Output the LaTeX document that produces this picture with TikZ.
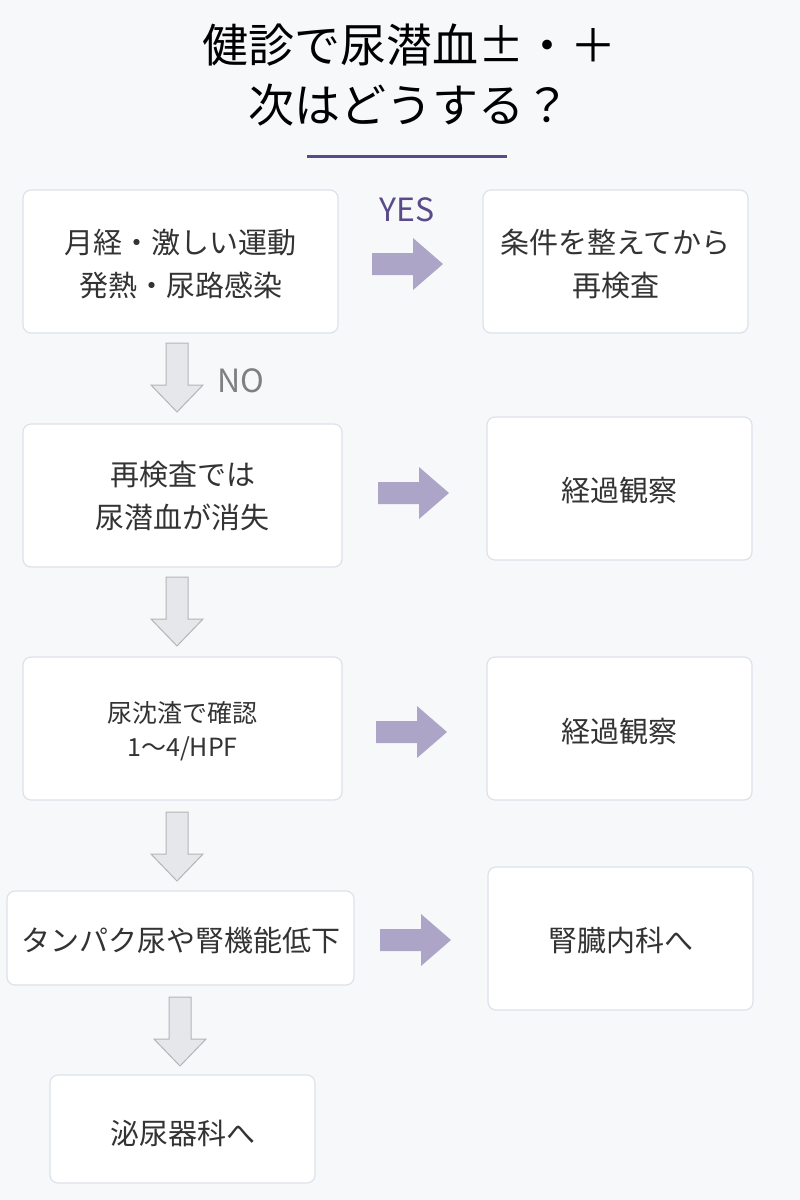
\documentclass[tikz,border=0pt]{standalone}
\usepackage{fontspec}
\setmainfont{Noto Sans CJK JP}
\definecolor{bg}{HTML}{F7F8FA}
\definecolor{bd}{HTML}{DDE2EA}
\definecolor{pur}{HTML}{5B4A8A}
\definecolor{lpur}{HTML}{ADA5C8}
\definecolor{gfill}{HTML}{E6E7EA}
\definecolor{gline}{HTML}{B5B5B5}
\definecolor{txt}{HTML}{333333}
\begin{document}
\begin{tikzpicture}[x=1pt,y=-1pt,
 box/.style={draw=bd,line width=1.2pt,fill=white,rounded corners=8pt},
 t/.style={text=txt,font=\fontsize{29}{43}\selectfont,align=center},
 ra/.style={fill=lpur,draw=none},
 da/.style={fill=gfill,draw=gline,line width=1pt,line join=miter}]
\fill[bg] (0,0) rectangle (800,1200);
\useasboundingbox (0,0) rectangle (800,1200);
\node[t,font=\fontsize{46}{60}\selectfont,text=black] (title) at (409,75) {健診で尿潜血±・＋\\次はどうする？};
\draw[pur,line width=3pt] (307,156) coordinate (u1) -- (507,156) coordinate (u2);
\draw[box] (23,190) rectangle (338,333); \node[t] (b1) at (180.5,264) {月経・激しい運動\\発熱・尿路感染};
\draw[box] (483,190) rectangle (748,333); \node[t] (b2) at (615.5,264) {条件を整えてから\\再検査};
\draw[box] (23,424) rectangle (342,567); \node[t] (b3) at (182.5,496) {再検査では\\尿潜血が消失};
\draw[box] (487,417) rectangle (752,560); \node[t] (b4) at (619.5,491) {経過観察};
\draw[box] (23,657) rectangle (342,800); \node[t,font=\fontsize{25}{34}\selectfont] (b5) at (182.5,731) {尿沈渣で確認\\1〜4/HPF};
\draw[box] (487,657) rectangle (752,800); \node[t] (b6) at (619.5,731) {経過観察};
\draw[box] (7,891) rectangle (354,985); \node[t] (b7) at (180.5,940) {タンパク尿や腎機能低下};
\draw[box] (488,867) rectangle (753,1010); \node[t] (b8) at (620.5,940) {腎臓内科へ};
\draw[box] (50,1075) rectangle (315,1183); \node[t] (b9) at (182.5,1133) {泌尿器科へ};
\foreach \n/\x/\y in {r1/372/264,r2/378/493,r3/376/732,r4/380/940}{
  \coordinate (\n) at (\x,\y);
  \fill[ra] (\n) ++(0,-11) -- ++(41,0) -- ++(0,-15) -- ++(30,26) -- ++(-30,26) -- ++(0,-15) -- ++(-41,0) -- cycle;
}
\foreach \n/\x/\y in {d1/177/343,d2/177/577,d3/177/812,d4/180/997}{
  \coordinate (\n) at (\x,\y);
  \draw[da] (\n) ++(-11,0) -- ++(0,42) -- ++(-15,0) -- ++(26,27) -- ++(26,-27) -- ++(-15,0) -- ++(0,-42) -- cycle;
}
\node[text=pur,font=\fontsize{32}{32}\selectfont] (yes) at (407,210) {YES};
\node[text=gray,font=\fontsize{32}{32}\selectfont] (no) at (241,381) {NO};
\end{tikzpicture}
\end{document}
